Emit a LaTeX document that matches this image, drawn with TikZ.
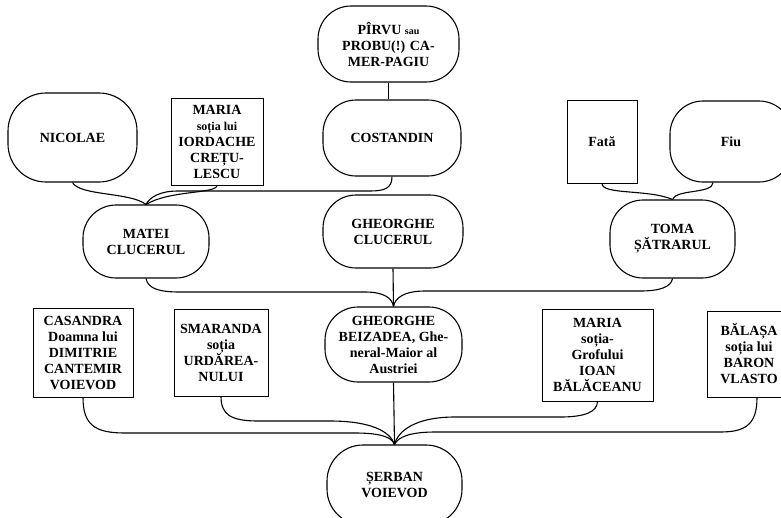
\documentclass[tikz,border=0pt]{standalone}
\usepackage{fontspec}
\setmainfont{Liberation Serif}
\begin{document}
\begin{tikzpicture}[x=1pt,y=-1pt,
  lbl/.style={font=\bfseries\fontsize{14}{16}\selectfont, align=center, inner sep=0pt},
  oval/.style={lbl, draw, line width=1.1pt, rounded corners=33pt},
  rbox/.style={lbl, draw, line width=1pt, rectangle},
  link/.style={line width=1.1pt, line join=round}]
\useasboundingbox (0,0) rectangle (781,517);
\fill[white] (0,0) rectangle (781,517);
\clip (0,0) rectangle (781,517);
% generation nodes
\node[oval, minimum width=141pt, minimum height=76pt] (pirvu) at (388.5,44)
  {PÎRVU {\fontsize{10}{12}\selectfont sau}\\PROBU(!) CA-\\MER-PAGIU};
\node[oval, minimum width=138pt, minimum height=76pt] (costandin) at (392,138) {COSTANDIN};
\node[oval, rounded corners=38pt, minimum width=129pt, minimum height=89pt] (nicolae) at (72.5,137.5) {NICOLAE};
\node[rbox, minimum width=92pt, minimum height=87pt] (maria1) at (217,141.5)
  {MARIA\\{\fontsize{12}{16}\selectfont soția lui}\\IORDACHE\\CREȚU-\\LESCU};
\node[rbox, minimum width=70pt, minimum height=83pt] (fata) at (602,141.5) {Fată};
\node[oval, minimum width=122pt, minimum height=81pt] (fiu) at (731,141.5) {Fiu};
\node[oval, minimum width=126pt, minimum height=73pt] (matei) at (146,241.5) {MATEI\\CLUCERUL};
\node[oval, minimum width=140pt, minimum height=73pt] (gclucer) at (393,231.5) {GHEORGHE\\CLUCERUL};
\node[oval, minimum width=125pt, minimum height=78pt] (toma) at (672.5,239) {TOMA\\ȘĂTRARUL};
\node[oval, minimum width=137pt, minimum height=75pt] (beizadea) at (393.5,344.5)
  {GHEORGHE\\BEIZADEA, Ghe-\\neral-Maior al\\Austriei};
\node[rbox, minimum width=100pt, minimum height=89pt] (casandra) at (83,352.5)
  {CASANDRA\\Doamna lui\\DIMITRIE\\CANTEMIR\\VOIEVOD};
\node[rbox, minimum width=94pt, minimum height=87pt] (smaranda) at (221,352.5)
  {SMARANDA\\soția\\URDĂREA-\\NULUI};
\node[rbox, minimum width=111pt, minimum height=92pt] (mariab) at (597.5,355)
  {MARIA\\soția-\\Grofului\\IOAN\\BĂLĂCEANU};
\node[rbox, minimum width=84pt, minimum height=86pt] (balasa) at (749,354)
  {BĂLAȘA\\soția lui\\BARON\\VLASTO};
\node[oval, rounded corners=36pt, minimum width=135pt, minimum height=80pt] (serban) at (394.5,485) {ȘERBAN\\VOIEVOD};
% connectors
\draw[link] (pirvu.south) -- (pirvu.south |- costandin.north);
\draw[link] (nicolae.south) .. controls (80,196) and (130,192) .. (matei.north);
\draw[link] (maria1.south) .. controls (216,194) and (170,190) .. (matei.north);
\draw[link] (costandin.south) .. controls (392,188) and (385,191) .. (370,191) -- (178,191)
  .. controls (160,191) and (150,197) .. (matei.north);
\draw[link] (fata.south) .. controls (602,195) and (648,189) .. (toma.north);
\draw[link] ([xshift=-18pt]fiu.south) .. controls (713,194) and (676,189) .. (toma.north);
\draw[link] (gclucer.south) -- (beizadea.north);
\draw[link] (matei.south) .. controls (148,289) and (160,292) .. (180,292) -- (365,292)
  .. controls (384,292) and (392,298) .. (beizadea.north);
\draw[link] (toma.south) .. controls (671,287) and (660,291) .. (640,291) -- (425,291)
  .. controls (404,291) and (395,298) .. (beizadea.north);
\draw[link] (beizadea.south) -- (serban.north);
\draw[link] (casandra.south) .. controls (83,425) and (95,433) .. (125,433) -- (355,433)
  .. controls (380,433) and (392,437) .. (serban.north);
\draw[link] (smaranda.south) .. controls (221,414) and (230,421) .. (258,421) -- (330,421)
  .. controls (370,421) and (390,431) .. (serban.north);
\draw[link] (mariab.south) .. controls (597,412) and (585,417) .. (560,417) -- (455,417)
  .. controls (415,417) and (398,431) .. (serban.north);
\draw[link] ([xshift=8pt]balasa.south) .. controls (757,425) and (745,432) .. (720,432) -- (435,432)
  .. controls (410,432) and (398,437) .. (serban.north);
\end{tikzpicture}
\end{document}
